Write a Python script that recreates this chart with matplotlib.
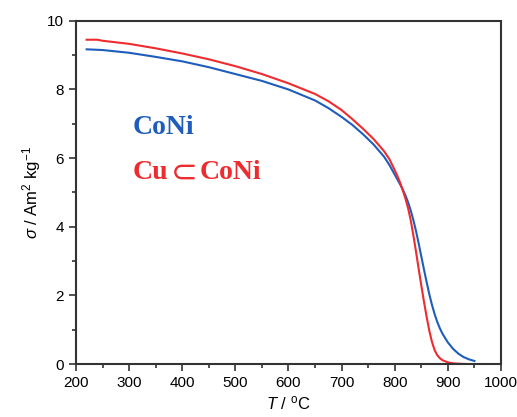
import matplotlib
matplotlib.use("Agg")
import matplotlib.pyplot as plt
from matplotlib.ticker import MultipleLocator

plt.rcParams['font.family'] = ['Liberation Sans', 'DejaVu Sans']
plt.rcParams['mathtext.fontset'] = 'custom'
plt.rcParams['mathtext.rm'] = 'Liberation Sans'
plt.rcParams['mathtext.it'] = 'Liberation Sans:italic'

# temperature (deg C) and magnetisation
t_coni = [220, 250, 300, 350, 400, 450, 500, 550, 600, 650, 675, 700, 720, 740, 760, 780,
          790, 800, 805, 810, 815, 820, 825, 830, 835, 840, 845, 850, 855, 860, 865,
          870, 875, 880, 885, 890, 900, 910, 920, 930, 940, 950]
s_coni = [9.17, 9.15, 9.07, 8.95, 8.82, 8.65, 8.45, 8.25, 8.0, 7.68, 7.46, 7.2, 6.97, 6.7,
          6.4, 6.04, 5.8, 5.52, 5.38, 5.24, 5.09, 4.92, 4.72, 4.48, 4.2, 3.88, 3.52,
          3.14, 2.76, 2.39, 2.04, 1.73, 1.46, 1.23, 1.04, 0.88, 0.63, 0.44, 0.3, 0.2, 0.135, 0.09]

t_cu = [220, 240, 250, 300, 350, 400, 450, 500, 550, 600, 650, 675, 700, 720, 740, 760,
        780, 790, 800, 805, 810, 815, 820, 825, 830, 835, 840, 845, 850, 855, 860, 865,
        870, 875, 880, 885, 890, 900, 910, 920, 935, 950]
s_cu = [9.45, 9.45, 9.42, 9.33, 9.2, 9.05, 8.88, 8.68, 8.45, 8.18, 7.87, 7.66, 7.4, 7.14,
        6.86, 6.56, 6.2, 5.97, 5.65, 5.48, 5.29, 5.07, 4.83, 4.55, 4.2, 3.76, 3.28, 2.78,
        2.29, 1.82, 1.38, 0.98, 0.65, 0.41, 0.26, 0.17, 0.11, 0.05, 0.02, 0.01, 0.0, 0.0]

blue = '#1f5dbd'
red = '#ee2b2f'

fig = plt.figure(figsize=(5.17, 4.17), dpi=100)
ax = fig.add_axes([0.147, 0.127, 0.822, 0.823])

ax.plot(t_coni, s_coni, color=blue, lw=1.5)
ax.plot(t_cu, s_cu, color=red, lw=1.5)

ax.set_xlim(200, 1000)
ax.set_ylim(0, 10)
ax.xaxis.set_major_locator(MultipleLocator(100))
ax.xaxis.set_minor_locator(MultipleLocator(50))
ax.yaxis.set_major_locator(MultipleLocator(2))
ax.yaxis.set_minor_locator(MultipleLocator(1))
ax.tick_params(which='both', direction='out', top=False, right=False,
               labelsize=11, color='#333333', width=1.2)
ax.tick_params(which='major', length=5)
ax.tick_params(which='minor', length=3)
for sp in ax.spines.values():
    sp.set_color('#333333')
    sp.set_linewidth(1.5)

ax.set_xlabel(r'$T$ / $^{\rm o}$C', fontsize=12, labelpad=3)
ax.set_ylabel(r'$\sigma$ / Am$^2$ kg$^{-1}$', fontsize=12, labelpad=3)

# sample labels, the subset sign in normal weight between the bold names
serif = ['Liberation Serif', 'DejaVu Serif']
lab = dict(fontsize=20, fontweight='bold', family=serif, va='center', ha='left')
ax.text(307, 6.9, 'CoNi', color=blue, **lab)
text = ax.text(307, 5.57, 'Cu', color=red, **lab)
text = ax.annotate('\u2282', xycoords=text, xy=(1.08, 0.5), color=red, fontsize=23,
                   family=['DejaVu Sans'], va='center', ha='left')
ax.annotate('CoNi', xycoords=text, xy=(1.05, 0.5), color=red, **lab)

fig.savefig('out.png', dpi=100)
